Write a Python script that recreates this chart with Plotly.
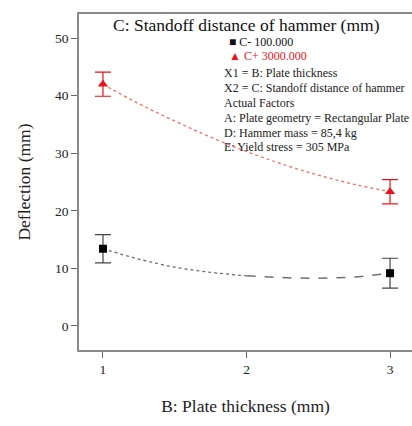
import plotly.graph_objects as go

# Design points (measured means with error bars)
x_pts = [1, 3]
c_minus_y = [13.4, 9.15]
c_minus_err = [2.45, 2.6]
c_plus_y = [42.0, 23.3]
c_plus_err = [2.1, 2.1]

# Model prediction curves
curve_x_a = [1.0, 1.25, 1.5, 1.75, 2.0]
c_minus_curve_a = [13.4, 11.6, 10.2, 9.3, 8.7]
curve_x_b = [2.0, 2.25, 2.5, 2.75, 3.0]
c_minus_curve_b = [8.7, 8.38, 8.28, 8.5, 9.15]
curve_x = [1.0, 1.25, 1.5, 1.75, 2.0, 2.25, 2.5, 2.75, 3.0]
c_plus_curve = [42.0, 38.6, 35.6, 32.8, 30.3, 28.1, 26.2, 24.6, 23.3]

legend_labels = ["C- 100.000", "C+ 3000.000"]
info_lines = [
    "X1 = B: Plate thickness",
    "X2 = C: Standoff distance of hammer",
    "Actual Factors",
    "A: Plate geometry = Rectangular Plate",
    "D: Hammer mass = 85,4 kg",
    "E: Yield stress = 305 MPa",
]

FONT = "Liberation Serif"
RED = "#e8141b"

fig = go.Figure()

fig.add_trace(go.Scatter(x=curve_x, y=c_plus_curve, mode="lines",
                         line=dict(color="rgba(240,70,70,0.85)", width=1.2, dash="dot", shape="spline"),
                         showlegend=False, hoverinfo="skip"))
fig.add_trace(go.Scatter(x=curve_x_a, y=c_minus_curve_a, mode="lines",
                         line=dict(color="#707070", width=1.3, dash="dot", shape="spline"),
                         showlegend=False, hoverinfo="skip"))
fig.add_trace(go.Scatter(x=curve_x_b, y=c_minus_curve_b, mode="lines",
                         line=dict(color="#707070", width=1.5, dash="dash", shape="spline"),
                         showlegend=False, hoverinfo="skip"))

fig.add_trace(go.Scatter(x=x_pts, y=c_minus_y, mode="markers",
                         marker=dict(symbol="square", color="black", size=8),
                         error_y=dict(type="data", array=c_minus_err, color="#444", thickness=1.2, width=8),
                         showlegend=False))
fig.add_trace(go.Scatter(x=x_pts, y=c_plus_y, mode="markers",
                         marker=dict(symbol="triangle-up", color=RED, size=9),
                         error_y=dict(type="data", array=c_plus_err, color=RED, thickness=1.2, width=8),
                         showlegend=False))

anns = []
# Title
anns.append(dict(text="C: Standoff distance of hammer (mm)", xref="paper", yref="paper",
                 x=(246 - 79) / 333, y=1 - (25 - 14) / 336, xanchor="center", yanchor="middle",
                 showarrow=False, font=dict(family=FONT, size=17.5, color="#111")))
# Legend entries
anns.append(dict(text="\u25a0 " + legend_labels[0], xref="paper", yref="paper",
                 x=(227 - 79) / 333, y=1 - (42 - 14) / 336, xanchor="left", yanchor="middle",
                 showarrow=False, font=dict(family=FONT, size=12, color="#111")))
anns.append(dict(text="\u25b2 " + legend_labels[1], xref="paper", yref="paper",
                 x=(227 - 79) / 333, y=1 - (56 - 14) / 336, xanchor="left", yanchor="middle",
                 showarrow=False, font=dict(family=FONT, size=12, color=RED)))
info_y = [73, 88, 103, 118, 133, 147]
for t, yy in zip(info_lines, info_y):
    anns.append(dict(text=t, xref="paper", yref="paper",
                     x=(222 - 79) / 333, y=1 - (yy - 14) / 336, xanchor="left", yanchor="middle",
                     showarrow=False, font=dict(family=FONT, size=12, color="#222")))

fig.update_layout(
    width=412, height=426,
    margin=dict(l=79, r=0, t=14, b=76),
    paper_bgcolor="white", plot_bgcolor="white",
    annotations=anns,
    xaxis=dict(range=[0.833, 3.153], tickvals=[1, 2, 3], ticks="outside", ticklen=6,
               tickcolor="#666", showline=True, linecolor="#8a8a8a", linewidth=1.5,
               mirror=True, showgrid=False, zeroline=False,
               tickfont=dict(family=FONT, size=13.5, color="#222"),
               title=dict(text="B: Plate thickness (mm)", font=dict(family=FONT, size=17.5, color="#222"),
                          standoff=24)),
    yaxis=dict(range=[-4.2, 54.2], tickvals=[0, 10, 20, 30, 40, 50], ticks="outside", ticklen=6,
               tickcolor="#666", showline=True, linecolor="#8a8a8a", linewidth=1.5,
               showgrid=False, zeroline=False,
               tickfont=dict(family=FONT, size=13.5, color="#222"),
               title=dict(text="Deflection (mm)", font=dict(family=FONT, size=17.5, color="#222"),
                          standoff=20)),
)

fig.write_html("out.html")
